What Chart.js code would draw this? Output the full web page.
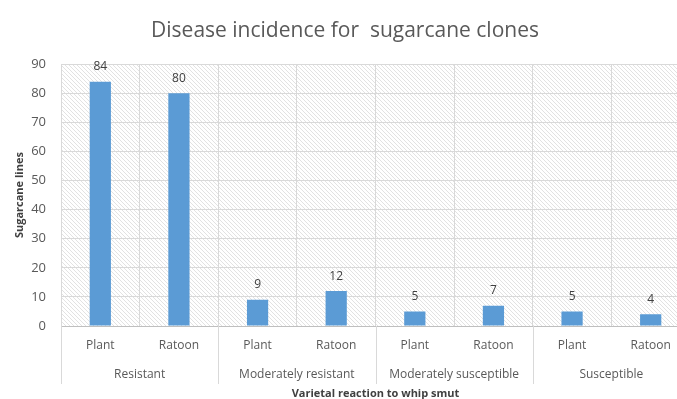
<!DOCTYPE html>
<html>
<head>
<meta charset="utf-8">
<script src="https://cdn.jsdelivr.net/npm/chart.js@4"></script>
<style>
  html, body { margin: 0; padding: 0; background: #fff; overflow: hidden; }
  #wrap { width: 690px; height: 410px; }
</style>
</head>
<body>
<div id="wrap"><canvas id="chart" width="690" height="410"></canvas></div>
<script>
// data
const stages = ['Plant', 'Ratoon', 'Plant', 'Ratoon', 'Plant', 'Ratoon', 'Plant', 'Ratoon'];
const groups = ['Resistant', 'Moderately resistant', 'Moderately susceptible', 'Susceptible'];
const lines = [84, 80, 9, 12, 5, 7, 5, 4];
const yTicks = [0, 10, 20, 30, 40, 50, 60, 70, 80, 90];

const textColor = '#595959';
const gridColor = '#d9d9d9';
const labelFont = '"Liberation Sans Narrow", "Open Sans", sans-serif';

// hatched background inside the plot area
function makeHatch() {
  const c = document.createElement('canvas');
  c.width = 4; c.height = 4;
  const g = c.getContext('2d');
  g.fillStyle = '#fff';
  g.fillRect(0, 0, 4, 4);
  g.strokeStyle = '#e2e2e2';
  g.lineWidth = 1;
  g.beginPath();
  g.moveTo(-1, -1); g.lineTo(5, 5);
  g.moveTo(-1, 3); g.lineTo(1, 5);
  g.moveTo(3, -1); g.lineTo(5, 1);
  g.stroke();
  return g.createPattern(c, 'repeat');
}

const hatchPlugin = {
  id: 'hatch',
  beforeDraw(chart) {
    const { ctx, chartArea: a } = chart;
    ctx.save();
    ctx.fillStyle = makeHatch();
    ctx.fillRect(a.left, a.top, a.right - a.left, a.bottom - a.top);
    ctx.restore();
  }
};

// value labels above the bars
const valuePlugin = {
  id: 'values',
  afterDatasetsDraw(chart) {
    const { ctx } = chart;
    const meta = chart.getDatasetMeta(0);
    ctx.save();
    ctx.font = '12px ' + labelFont;
    ctx.fillStyle = '#404040';
    ctx.textAlign = 'center';
    ctx.textBaseline = 'middle';
    meta.data.forEach((bar, i) => {
      ctx.fillText(String(lines[i]), bar.x, bar.y - 15);
    });
    ctx.restore();
  }
};

// group labels and separators under the category labels
const groupPlugin = {
  id: 'groups',
  afterDraw(chart) {
    const { ctx } = chart;
    const x = chart.scales.x;
    const half = (x.getPixelForValue(1) - x.getPixelForValue(0)) / 2;
    const top = chart.chartArea.bottom;
    ctx.save();
    ctx.strokeStyle = gridColor;
    ctx.lineWidth = 1;
    ctx.font = '12px ' + labelFont;
    ctx.fillStyle = textColor;
    ctx.textAlign = 'center';
    ctx.textBaseline = 'middle';
    for (let g = 0; g <= groups.length; g++) {
      const px = Math.round(x.getPixelForValue(g * 2) - half) + 0.5;
      ctx.beginPath();
      ctx.moveTo(px, top);
      ctx.lineTo(px, top + 58);
      ctx.stroke();
      if (g < groups.length) {
        const cx = (x.getPixelForValue(g * 2) + x.getPixelForValue(g * 2 + 1)) / 2;
        ctx.fillText(groups[g], cx, top + 49);
      }
    }
    ctx.restore();
  }
};

new Chart(document.getElementById('chart'), {
  type: 'bar',
  data: {
    labels: stages,
    datasets: [{
      data: lines,
      backgroundColor: '#5b9bd5',
      categoryPercentage: 1,
      barPercentage: 0.27
    }]
  },
  options: {
    responsive: false,
    animation: false,
    layout: { padding: 0 },
    plugins: {
      legend: { display: false },
      tooltip: { enabled: false },
      title: {
        display: true,
        text: 'Disease incidence for  sugarcane clones',
        color: textColor,
        font: { family: '"Open Sans", sans-serif', size: 21, weight: 'normal' },
        padding: { top: 18, bottom: 21 }
      }
    },
    scales: {
      x: {
        grid: { offset: true, color: gridColor, drawTicks: false },
        border: { color: '#bfbfbf' },
        ticks: { color: textColor, font: { family: labelFont, size: 12 }, padding: 12 },
        title: {
          display: true,
          text: 'Varietal reaction to whip smut',
          color: '#404040',
          font: { family: '"Open Sans", sans-serif', size: 11, weight: 'bold' },
          padding: { top: 0, bottom: 10 }
        },
        afterFit: s => { s.height = 84; }
      },
      y: {
        min: 0,
        max: 90,
        afterBuildTicks: s => { s.ticks = yTicks.map(v => ({ value: v })); },
        grid: { color: gridColor, drawTicks: false },
        border: { display: false },
        ticks: { color: textColor, font: { family: labelFont, size: 13 }, padding: 15 },
        title: {
          display: true,
          text: 'Sugarcane lines',
          color: '#404040',
          font: { family: '"Open Sans", sans-serif', size: 11, weight: 'bold' },
          padding: { top: 13, bottom: 0 }
        },
        afterFit: s => { s.width = 61; }
      }
    }
  },
  plugins: [hatchPlugin, valuePlugin, groupPlugin]
});
</script>
</body>
</html>
